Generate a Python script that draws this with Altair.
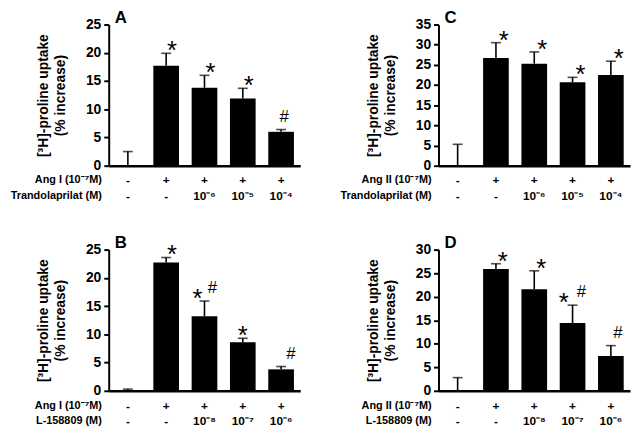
import altair as alt
import pandas as pd

conds = ["c0", "c1", "c2", "c3", "c4"]

A_mean = [0.0, 17.7, 13.8, 11.9, 6.0]
A_err = [2.5, 2.2, 2.2, 1.8, 0.4]
B_mean = [0.1, 22.7, 13.2, 8.6, 3.8]
B_err = [0.2, 0.9, 2.7, 0.7, 0.5]
C_mean = [0.0, 26.7, 25.3, 20.7, 22.5]
C_err = [5.3, 3.8, 2.9, 1.2, 3.4]
D_mean = [0.0, 25.9, 21.6, 14.4, 7.4]
D_err = [2.8, 1.1, 3.9, 3.8, 2.2]

row1_vals = ["-", "+", "+", "+", "+"]
trando_vals = ["-", "-", "10⁻⁶", "10⁻⁵", "10⁻⁴"]
l_vals = ["-", "-", "10⁻⁸", "10⁻⁷", "10⁻⁶"]

# (condition, symbol, horizontal shift)
A_marks = [("c1", "*", 6), ("c2", "*", 6), ("c3", "*", 6), ("c4", "#", 3)]
B_marks = [("c1", "*", 6), ("c2", "*", -7), ("c2", "#", 8), ("c3", "*", 0), ("c4", "#", 10)]
C_marks = [("c1", "*", 8), ("c2", "*", 8), ("c3", "*", 8), ("c4", "*", 8)]
D_marks = [("c1", "*", 7), ("c2", "*", 7), ("c3", "*", -9), ("c3", "#", 9), ("c4", "#", 7)]

FONT = "Liberation Sans"
W, H = 194, 143
YTITLE = ["[³H]-proline uptake", "(% increase)"]


def panel(letter, mean, err, ymax, row1_name, row2_name, row2_vals, marks):
    df = pd.DataFrame({"cond": conds, "mean": mean, "err": err})
    df["top"] = df["mean"] + df["err"]
    xenc = alt.X(
        "cond:N", sort=conds,
        scale=alt.Scale(paddingInner=0.33, paddingOuter=0.165),
        axis=alt.Axis(labels=False, ticks=False, title=None, domainWidth=2.5,
                      domainColor="black", grid=False),
    )
    yscale = alt.Scale(domain=[0, ymax], nice=False)
    yaxis = alt.Axis(
        values=list(range(0, ymax + 1, 5)), grid=False, domainWidth=2,
        domainColor="black", tickColor="black", tickWidth=2, tickSize=5,
        labelFontSize=14, labelFontWeight="bold", labelColor="black", labelPadding=3,
        labelFont=FONT, title=YTITLE, titleFont=FONT, titleFontSize=14,
        titleFontWeight="bold", titleColor="black", titlePadding=18, titleLineHeight=17,
    )
    base = alt.Chart(df)
    bars = base.mark_bar(color="black").encode(
        x=xenc, y=alt.Y("mean:Q", scale=yscale, axis=yaxis)
    )
    rules = base.mark_rule(color="black", strokeWidth=1.6).encode(
        x=xenc, y=alt.Y("mean:Q", scale=yscale, axis=yaxis), y2="top:Q"
    )
    caps = base.mark_tick(color="black", size=10, thickness=1.6, orient="horizontal").encode(
        x=xenc, y=alt.Y("top:Q", scale=yscale, axis=yaxis)
    )
    layers = [bars, rules, caps]

    mdf = pd.DataFrame(marks, columns=["cond", "sym", "dx"])
    mdf = mdf.merge(df[["cond", "top"]], on="cond")
    for (sym, dx), sub in mdf.groupby(["sym", "dx"]):
        if sym == "*":
            mk = alt.Chart(sub).mark_text(font=FONT, fontSize=26, fontWeight="normal",
                                          color="black", dx=int(dx), dy=6,
                                          baseline="alphabetic")
        else:
            mk = alt.Chart(sub).mark_text(font=FONT, fontSize=17, fontWeight="normal",
                                          color="black", dx=int(dx), dy=-8,
                                          baseline="alphabetic")
        layers.append(mk.encode(x=xenc, y=alt.Y("top:Q", scale=yscale, axis=yaxis),
                                text="sym:N"))

    rdf = pd.DataFrame({"cond": conds, "r1": row1_vals, "r2": row2_vals})
    tstyle = dict(font=FONT, fontSize=12, fontWeight="bold", color="black",
                  baseline="middle")
    nstyle = dict(font=FONT, fontSize=11, fontWeight="bold", color="black",
                  baseline="middle", align="right")
    r1 = alt.Chart(rdf).mark_text(**tstyle).encode(
        x=xenc, y=alt.value(H + 15), text="r1:N")
    r2 = alt.Chart(rdf).mark_text(**tstyle).encode(
        x=xenc, y=alt.value(H + 31), text="r2:N")
    ndf = pd.DataFrame({"n1": [row1_name], "n2": [row2_name], "letter": [letter]})
    n1 = alt.Chart(ndf).mark_text(**nstyle).encode(
        x=alt.value(-7), y=alt.value(H + 15), text="n1:N")
    n2 = alt.Chart(ndf).mark_text(**nstyle).encode(
        x=alt.value(-7), y=alt.value(H + 31), text="n2:N")
    lt = alt.Chart(ndf).mark_text(font=FONT, fontSize=17, fontWeight="bold",
                                  color="black", align="left", baseline="middle").encode(
        x=alt.value(6), y=alt.value(-7), text="letter:N")
    layers += [r1, r2, n1, n2, lt]
    return alt.layer(*layers).properties(width=W, height=H)


pA = panel("A", A_mean, A_err, 25, "Ang I (10⁻⁷M)", "Trandolaprilat (M)", trando_vals, A_marks)
pB = panel("B", B_mean, B_err, 25, "Ang I (10⁻⁷M)", "L-158809 (M)", l_vals, B_marks)
pC = panel("C", C_mean, C_err, 35, "Ang II (10⁻⁷M)", "Trandolaprilat (M)", trando_vals, C_marks)
pD = panel("D", D_mean, D_err, 30, "Ang II (10⁻⁷M)", "L-158809 (M)", l_vals, D_marks)

chart = alt.concat(
    pA, pC, pB, pD, columns=2, bounds="flush",
    spacing={"row": 85, "column": 140},
).properties(
    autosize=alt.AutoSizeParams(type="none"),
    padding={"left": 102, "top": 14, "right": 530, "bottom": 409},
    background="white",
).configure_view(stroke=None)

chart.save("out.html", embed_options={"renderer": "svg", "actions": False})
